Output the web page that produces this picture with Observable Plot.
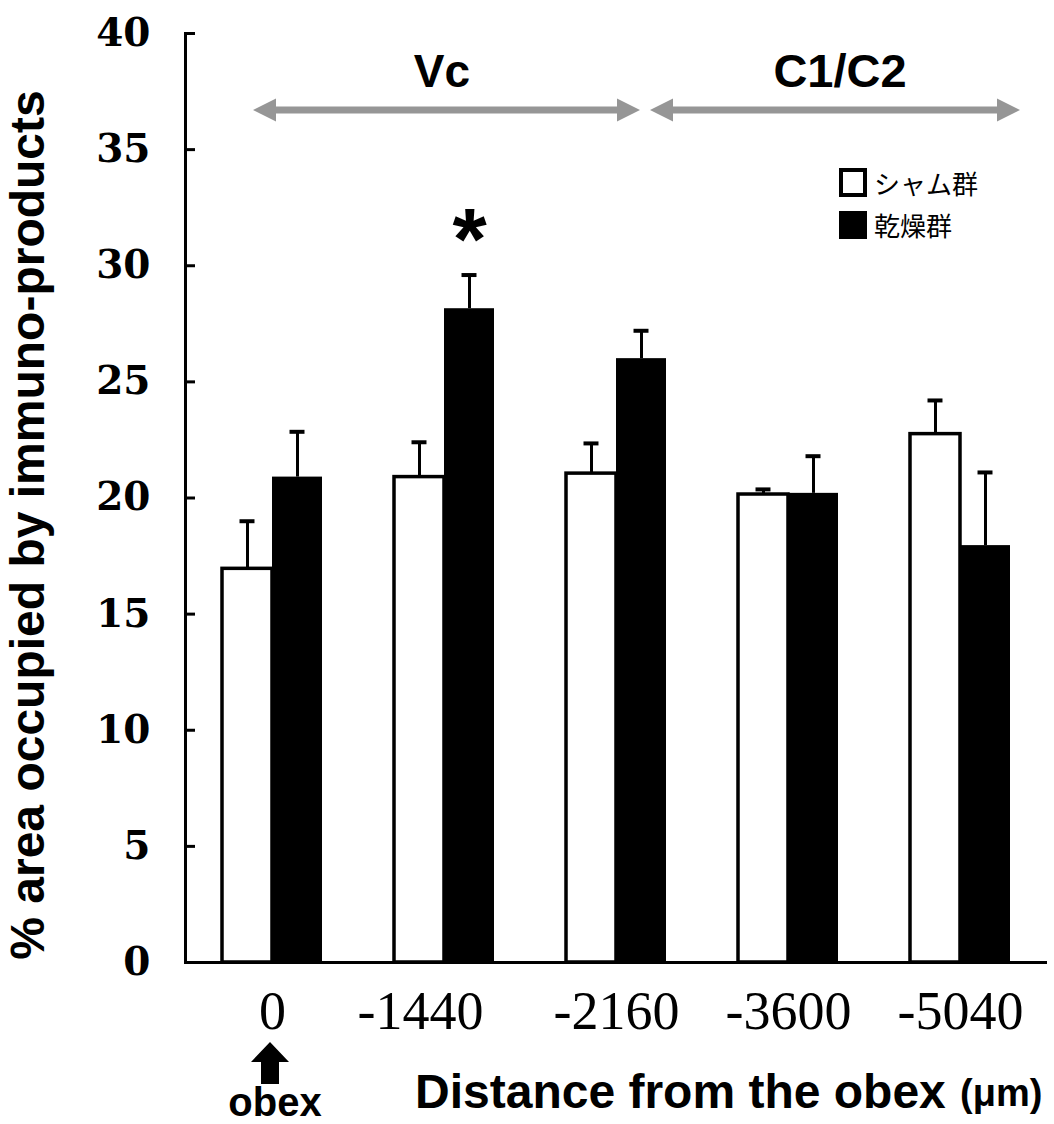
<!DOCTYPE html>
<html><head><meta charset="utf-8">
<script src="https://cdn.jsdelivr.net/npm/d3@7"></script>
<script src="https://cdn.jsdelivr.net/npm/@observablehq/plot@0.6"></script>
<style>body{margin:0;background:#fff} svg{display:block}</style>
</head><body><div id="chart"></div>
<script>
// ---- data ----
const distances = ["0", "-1440", "-2160", "-3600", "-5040"];
const groups = ["シャム群", "乾燥群"];
const shamMean = [16.95, 20.9, 21.05, 20.15, 22.75];
const shamSE   = [2.05, 1.5, 1.3, 0.22, 1.45];
const dryMean  = [20.9, 28.15, 26.0, 20.2, 17.95];
const drySE    = [1.95, 1.45, 1.2, 1.6, 3.15];
const yTicks = [0, 5, 10, 15, 20, 25, 30, 35, 40];
const significant = ["-1440"];
const yTitle = "% area occupied by immuno-products";
const xTitle = "Distance from the obex";
const xUnit = "(μm)";
const regionLabels = ["Vc", "C1/C2"];

// ---- layout ----
const W = 1054, H = 1124, mL = 185, mR = 7, mT = 33, mB = 162;
const padIn = 0.4194, padOut = 0.2117;
const step = (W - mL - mR) / (distances.length - padIn + 2 * padOut);
const bw = step * (1 - padIn);
const capW = 15;

const rows = distances.map((d, i) => ({
  dist: d, sham: shamMean[i], shamSE: shamSE[i], dry: dryMean[i], drySE: drySE[i]
}));
const sigRows = rows.filter(r => significant.includes(r.dist));
const xLabelOpts = {tickSize: 0, tickPadding: 28, fontSize: 54, fontFamily: "Liberation Serif", label: null};

const plot = Plot.plot({
  width: W, height: H,
  marginLeft: mL, marginRight: mR, marginTop: mT, marginBottom: mB,
  style: {background: "white", color: "black"},
  x: {domain: distances, paddingInner: padIn, paddingOuter: padOut, axis: null, label: null},
  y: {domain: [0, 40], axis: null, label: null},
  marks: [
    Plot.barY(rows, {x: "dist", y: "sham", insetRight: bw / 2, fill: "white", stroke: "black", strokeWidth: 3.5}),
    Plot.barY(rows, {x: "dist", y: "dry", insetLeft: bw / 2, fill: "black"}),
    Plot.ruleX(rows, {x: "dist", y1: "sham", y2: d => d.sham + d.shamSE, dx: -bw / 4, strokeWidth: 3}),
    Plot.ruleX(rows, {x: "dist", y1: "dry", y2: d => d.dry + d.drySE, dx: bw / 4, strokeWidth: 3}),
    Plot.tickY(rows, {x: "dist", y: d => d.sham + d.shamSE, insetLeft: bw / 4 - capW / 2, insetRight: 3 * bw / 4 - capW / 2, strokeWidth: 4}),
    Plot.tickY(rows, {x: "dist", y: d => d.dry + d.drySE, insetLeft: 3 * bw / 4 - capW / 2, insetRight: bw / 4 - capW / 2, strokeWidth: 4}),
    Plot.text(sigRows, {x: "dist", y: d => d.dry + d.drySE, text: () => "*", dx: bw / 4, dy: -34,
      fontSize: 88, fontWeight: "bold", fontFamily: "Liberation Sans", lineAnchor: "middle"}),
    Plot.frame({anchor: "left", strokeWidth: 3}),
    Plot.ruleY([0], {strokeWidth: 3}),
    Plot.axisY({ticks: yTicks, tickSize: 10, dx: 10, tickPadding: 35, strokeWidth: 3,
      fontSize: 40, fontFamily: "DejaVu Serif", label: null}),
    Plot.axisX(distances.filter(d => d !== "-1440"), xLabelOpts),
    Plot.axisX(["-1440"], {...xLabelOpts, dx: -24})
  ]
});

document.getElementById("chart").appendChild(plot);

const svg = d3.select(plot);
// enforce tick label fonts
svg.selectAll('g[aria-label="y-axis tick label"]')
  .attr("font-family", "DejaVu Serif").attr("font-weight", "bold").attr("font-size", 39);
svg.selectAll('g[aria-label="x-axis tick label"]')
  .attr("font-family", "Liberation Serif").attr("font-size", 54);

// ---- annotations ----
const g = svg.append("g").attr("text-anchor", "start");
const arrowColor = "#969696";
function dblArrow(x1, x2, y) {
  const t = 3.5, hl = 23, hh = 11.5;
  const p = [[x1, y], [x1 + hl, y - hh], [x1 + hl, y - t], [x2 - hl, y - t], [x2 - hl, y - hh], [x2, y],
             [x2 - hl, y + hh], [x2 - hl, y + t], [x1 + hl, y + t], [x1 + hl, y + hh]];
  g.append("path").attr("d", "M" + p.map(q => q.join(",")).join("L") + "Z").attr("fill", arrowColor);
}
dblArrow(253, 640, 110);
dblArrow(650, 1020, 110);
g.append("text").attr("x", 442).attr("y", 87).attr("text-anchor", "middle")
  .attr("font-family", "Liberation Sans").attr("font-weight", "bold").attr("font-size", 46).text(regionLabels[0]);
g.append("text").attr("x", 840).attr("y", 87).attr("text-anchor", "middle")
  .attr("font-family", "Liberation Sans").attr("font-weight", "bold").attr("font-size", 47).text(regionLabels[1]);

// legend
g.append("rect").attr("x", 841).attr("y", 170).attr("width", 24).attr("height", 25)
  .attr("fill", "white").attr("stroke", "black").attr("stroke-width", 4);
g.append("rect").attr("x", 839).attr("y", 211).attr("width", 28).attr("height", 28).attr("fill", "black");
g.append("text").attr("x", 874).attr("y", 194).attr("text-anchor", "start").attr("font-family", "Noto Sans CJK JP")
  .attr("font-size", 26).text(groups[0]);
g.append("text").attr("x", 874).attr("y", 236).attr("text-anchor", "start").attr("font-family", "Noto Sans CJK JP")
  .attr("font-size", 26).text(groups[1]);

// y title
g.append("text").attr("transform", "translate(44,525) rotate(-90)").attr("text-anchor", "middle")
  .attr("font-family", "Liberation Sans").attr("font-weight", "bold").attr("font-size", 48).text(yTitle);

// x title
g.append("text").attr("x", 415).attr("y", 1108).attr("text-anchor", "start").attr("font-family", "Liberation Sans")
  .attr("font-weight", "bold").attr("font-size", 48).text(xTitle);
g.append("text").attr("x", 960).attr("y", 1106).attr("text-anchor", "start").attr("font-family", "Liberation Sans")
  .attr("font-weight", "bold").attr("font-size", 38).text(xUnit);

// obex arrow + label
{
  const cx = 270, tip = 1042, hb = 1062, base = 1084, hw = 19, sw = 9;
  const p = [[cx, tip], [cx + hw, hb], [cx + sw, hb], [cx + sw, base], [cx - sw, base], [cx - sw, hb], [cx - hw, hb]];
  g.append("path").attr("d", "M" + p.map(q => q.join(",")).join("L") + "Z").attr("fill", "black");
  g.append("text").attr("x", 275).attr("y", 1116).attr("text-anchor", "middle")
    .attr("font-family", "Liberation Sans").attr("font-weight", "bold").attr("font-size", 40).text("obex");
}
</script>
</body></html>
